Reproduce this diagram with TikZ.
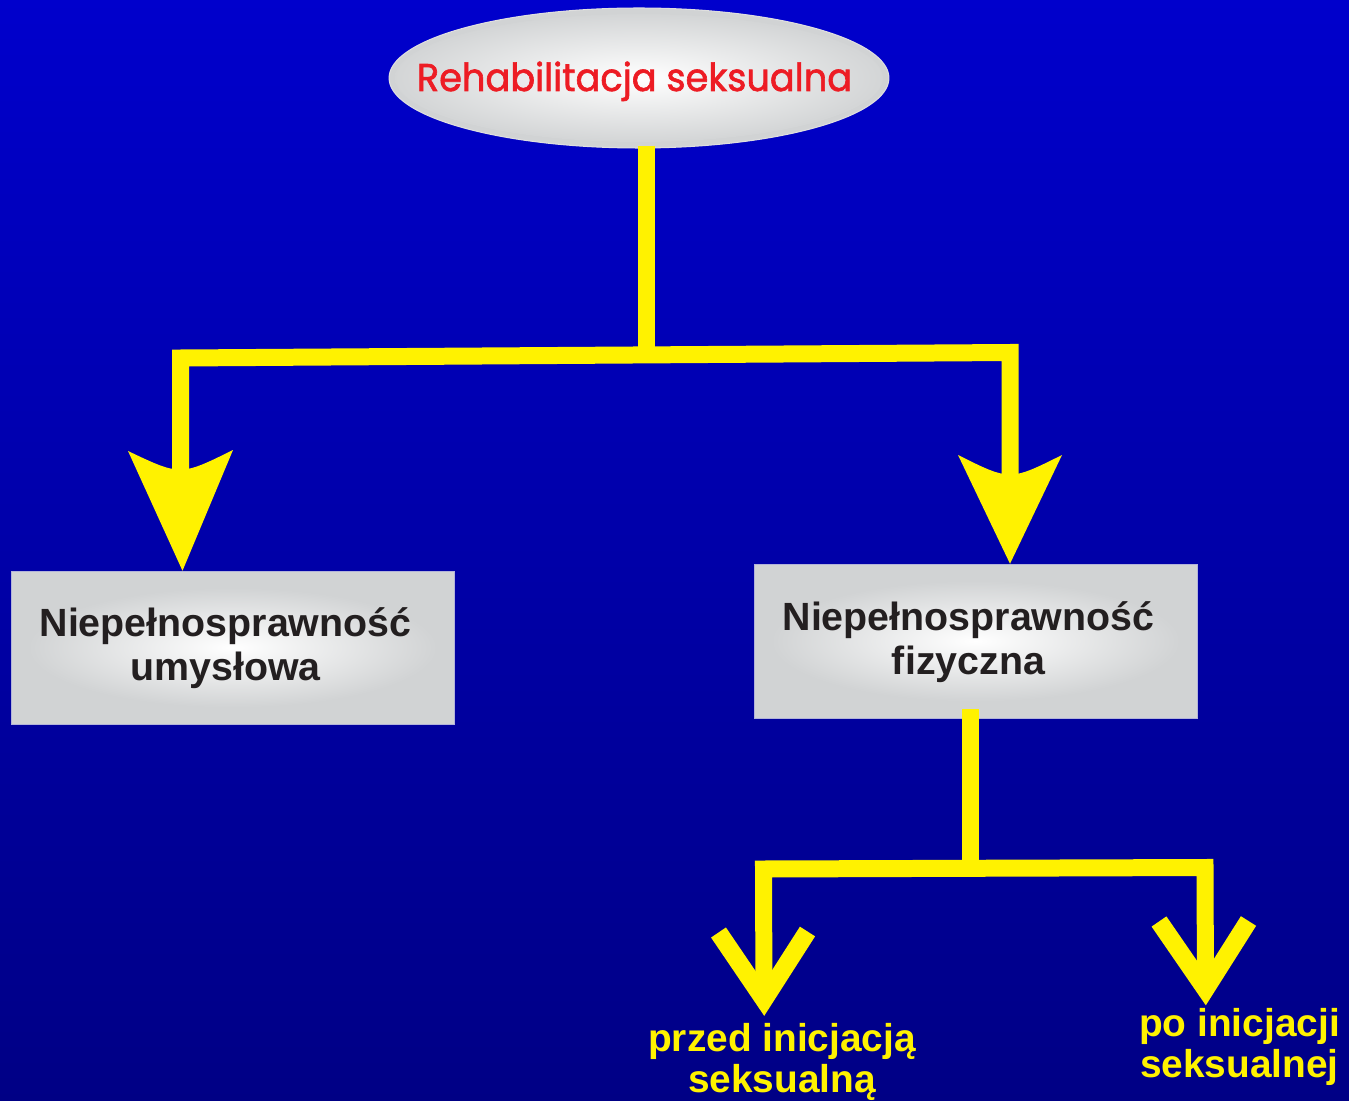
\documentclass[tikz,border=0pt]{standalone}
\usepackage{fontspec}
\setmainfont{Liberation Sans}
\newfontfamily\titlefont{Poppins}[FakeBold=1.6, FakeStretch=0.95]
\usetikzlibrary{calc,shapes.geometric}
\definecolor{bgtop}{HTML}{0000CC}
\definecolor{bgmid}{HTML}{0000F5}
\definecolor{bgbot}{HTML}{000085}
\definecolor{ylw}{HTML}{FFF200}
\definecolor{boxgray}{HTML}{D1D3D4}
\definecolor{txtdark}{HTML}{231F20}
\definecolor{ttlred}{HTML}{ED1C24}
\tikzset{
  conn/.style={draw=ylw, line width=0.34cm, line join=miter},
  chev/.style={draw=ylw, line width=0.36cm, line join=miter, miter limit=20},
  headfill/.style={fill=ylw},
  boxbg/.style={rectangle, fill=boxgray, draw=boxgray!85!blue, line width=0.3pt, minimum width=8.86cm, inner sep=0pt},
  boxtext/.style={align=center, text=txtdark, font=\bfseries\fontsize{22.4pt}{25pt}\selectfont, inner sep=0pt},
  leaftext/.style={align=center, text=ylw, font=\bfseries\fontsize{22.1pt}{23.2pt}\selectfont, inner sep=0pt},
  ttl/.style={ellipse, fill=boxgray, draw=gray!25, line width=0.6pt, minimum width=10cm, minimum height=2.8cm, inner sep=0pt},
}
\begin{document}
\begin{tikzpicture}[x=0.02cm,y=-0.02cm]
\useasboundingbox (0,0) rectangle (1349,1101);
\shade[top color=bgtop, middle color=bgmid, bottom color=bgbot] (0,0) rectangle (1349,1101);

% title ellipse
\node[ttl] (title) at (639,78) {};
\shade[inner color=white, outer color=boxgray!95!white] (639,78) ellipse [x radius=244, y radius=64];
\node[text=ttlred, font=\titlefont\fontsize{22pt}{22pt}\selectfont, inner sep=0pt, anchor=base] (ttltext) at (634.5,91) {Rehabilitacja seksualna};

% boxes
\node[boxbg, minimum height=3.06cm] (L) at (232.5,647.5) {};
\shade[inner color=white, outer color=boxgray] ($(L.south west)+(17,-17)$) rectangle ($(L.north east)+(-17,17)$);
\node[boxtext] (Ltext) at (225.5,648) {Niepełnosprawność\\umysłowa};

\node[boxbg, minimum height=3.08cm] (R) at (975.5,641) {};
\shade[inner color=white, outer color=boxgray] ($(R.south west)+(17,-17)$) rectangle ($(R.north east)+(-17,17)$);
\node[boxtext] (Rtext) at (968.5,642) {Niepełnosprawność\\fizyczna};

% leaf texts
\node[leaftext] (A) at (782,1062) {przed inicjacją\\seksualną};
\node[leaftext] (B) at (1239.5,1047) {po inicjacji\\seksualnej};

% coordinates
\coordinate (topstem) at ($(title.south)+(7,-3)$);
\coordinate (barL) at (180.5,358);
\coordinate (barR) at (1010,352.5);
\coordinate (barMid) at (646,355);
\coordinate (headL) at (180.5,478);
\coordinate (headR) at (1010,482);
\coordinate (tipL) at ($(L.north)+(-50,0)$);
\coordinate (tipR) at ($(R.north)+(34.5,0)$);

% top connectors
\draw[conn] (topstem) -- (barMid);
\draw[conn] (headL) -- (barL) -- (barR) -- (headR);
\path[headfill] (128,451) -- (tipL) -- (233,450) .. controls (180.5,476) .. cycle;
\path[headfill] (958,455) -- (tipR) -- (1062,455) .. controls (1010,481) .. cycle;

% lower connectors
\coordinate (lowstem) at ($(R.south)+(-5.5,-9)$);
\coordinate (lbarL) at (763.5,869);
\coordinate (lbarR) at (1205,867.5);
\coordinate (lbarMid) at (970,868);
\coordinate (vA) at (764,999.5);
\coordinate (vB) at (1205.5,989);
\draw[conn] (lowstem) -- (lbarMid);
\draw[conn] (vA) -- (lbarL) -- (lbarR) -- (vB);
\draw[chev] (718.5,932.5) -- (vA) -- (807.5,931.5);
\draw[chev] (1159,921.5) -- (vB) -- (1248.5,921);
\end{tikzpicture}
\end{document}
